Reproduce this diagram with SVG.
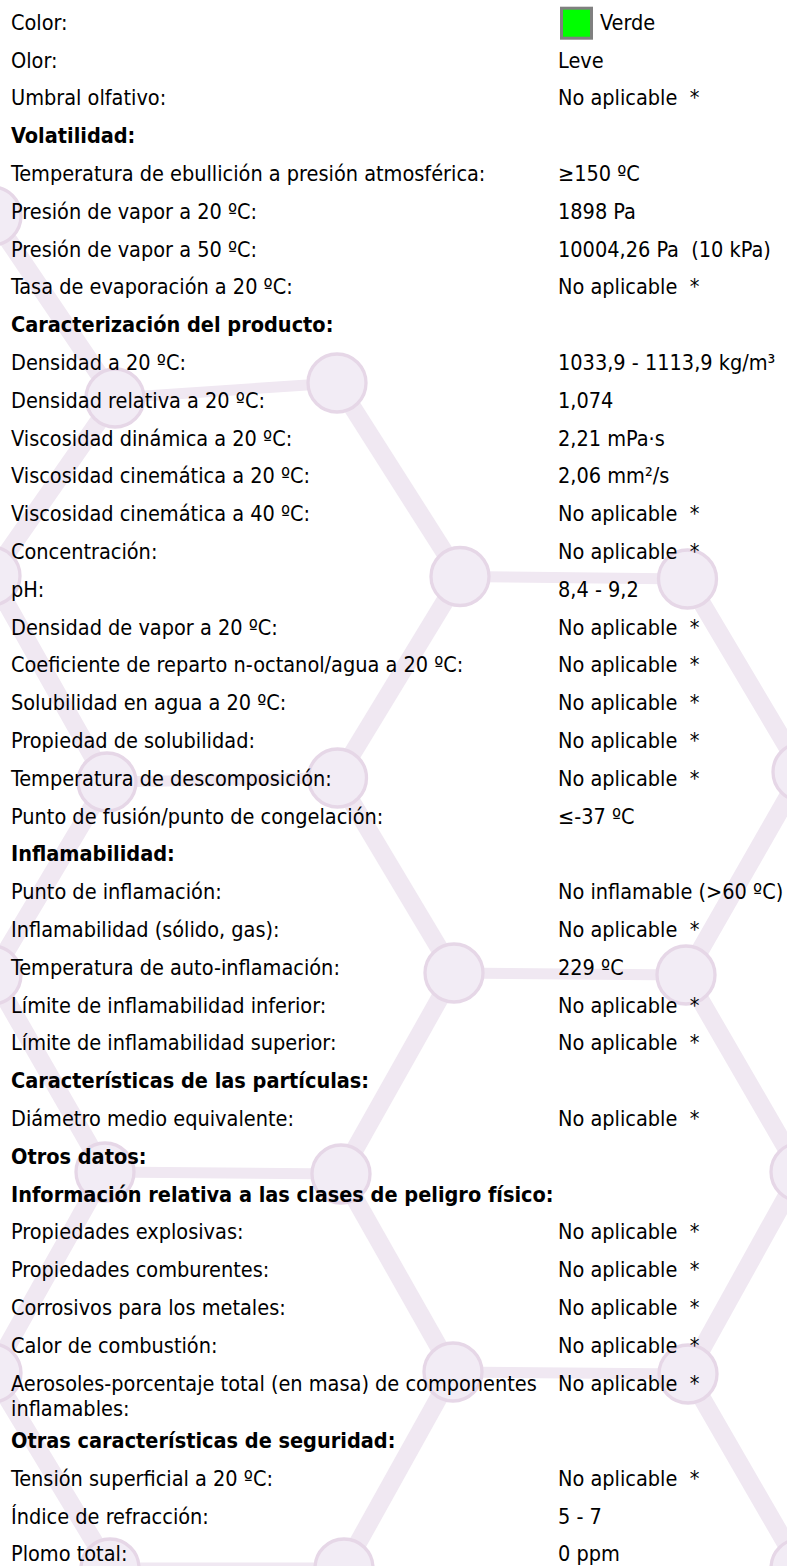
<svg xmlns="http://www.w3.org/2000/svg" width="787" height="1566" viewBox="0 0 787 1566">
<style>
text{font-family:'DejaVu Sans Condensed','DejaVu Sans',sans-serif;font-stretch:condensed;font-size:21.5px;fill:#000}
.b{font-weight:bold}
.ln{stroke:#F0E8F2;fill:none}
.dg{stroke-width:18}
.hz{stroke-width:11}
.dot{fill:#F2ECF5;stroke:#E6D7E7;stroke-width:3.3}
</style>
<rect width="787" height="1566" fill="#fff"/>
<g id="connectors">
<line class="ln dg" x1="-8" y1="216" x2="115" y2="398"/>
<line class="ln hz" x1="115" y1="398" x2="337" y2="383"/>
<line class="ln dg" x1="115" y1="398" x2="-9" y2="576"/>
<line class="ln dg" x1="337" y1="383" x2="460" y2="576.5"/>
<line class="ln hz" x1="460" y1="576.5" x2="687.5" y2="579"/>
<line class="ln dg" x1="460" y1="576.5" x2="337.5" y2="778"/>
<line class="ln dg" x1="687.5" y1="579" x2="802" y2="772"/>
<line class="ln dg" x1="-9" y1="576" x2="107" y2="782"/>
<line class="ln hz" x1="107" y1="782" x2="337.5" y2="778"/>
<line class="ln dg" x1="107" y1="782" x2="-8" y2="975"/>
<line class="ln dg" x1="337.5" y1="778" x2="454" y2="973"/>
<line class="ln dg" x1="802" y1="772" x2="686" y2="975"/>
<line class="ln hz" x1="454" y1="973" x2="686" y2="975"/>
<line class="ln dg" x1="454" y1="973" x2="341" y2="1174"/>
<line class="ln dg" x1="686" y1="975" x2="800" y2="1172"/>
<line class="ln dg" x1="-8" y1="975" x2="105" y2="1172"/>
<line class="ln hz" x1="105" y1="1172" x2="341" y2="1174"/>
<line class="ln dg" x1="341" y1="1174" x2="453" y2="1372"/>
<line class="ln dg" x1="105" y1="1172" x2="-8" y2="1373"/>
<line class="ln dg" x1="800" y1="1172" x2="688" y2="1374"/>
<line class="ln hz" x1="453" y1="1372" x2="688" y2="1374"/>
<line class="ln dg" x1="453" y1="1372" x2="344" y2="1568"/>
<line class="ln dg" x1="688" y1="1374" x2="800" y2="1568"/>
<line class="ln dg" x1="-8" y1="1373" x2="110" y2="1568"/>
<line class="ln hz" x1="110" y1="1568" x2="344" y2="1568"/>
</g>
<g id="pattern-nodes">
<circle class="dot" cx="-8" cy="216" r="29"/>
<circle class="dot" cx="115" cy="398" r="29"/>
<circle class="dot" cx="337" cy="383" r="29"/>
<circle class="dot" cx="-9" cy="576" r="29"/>
<circle class="dot" cx="460" cy="576.5" r="29"/>
<circle class="dot" cx="687.5" cy="579" r="29"/>
<circle class="dot" cx="107" cy="782" r="29"/>
<circle class="dot" cx="337.5" cy="778" r="29"/>
<circle class="dot" cx="802" cy="772" r="29"/>
<circle class="dot" cx="-8" cy="975" r="29"/>
<circle class="dot" cx="454" cy="973" r="29"/>
<circle class="dot" cx="686" cy="975" r="29"/>
<circle class="dot" cx="105" cy="1172" r="29"/>
<circle class="dot" cx="341" cy="1174" r="29"/>
<circle class="dot" cx="800" cy="1172" r="29"/>
<circle class="dot" cx="-8" cy="1373" r="29"/>
<circle class="dot" cx="453" cy="1372" r="29"/>
<circle class="dot" cx="688" cy="1374" r="29"/>
<circle class="dot" cx="110" cy="1568" r="29"/>
<circle class="dot" cx="344" cy="1568" r="29"/>
<circle class="dot" cx="800" cy="1568" r="29"/>
</g>
<g id="row-color"><text x="11" y="29.8">Color:</text><rect x="561.5" y="8.2" width="30" height="30" fill="#00FF00" stroke="#808080" stroke-width="3"/><text x="600" y="29.8">Verde</text></g>
<g id="row-olor"><text x="11" y="67.6">Olor:</text><text x="558" y="67.6">Leve</text></g>
<g id="row-umbral"><text x="11" y="105.4">Umbral olfativo:</text><text x="558" y="105.4">No aplicable&#160;&#160;*</text></g>
<g id="row-volatilidad"><text class="b" x="11" y="143.2">Volatilidad:</text></g>
<g id="row-ebullicion"><text x="11" y="181">Temperatura de ebullición a presión atmosférica:</text><text x="558" y="181">≥150 ºC</text></g>
<g id="row-pv20"><text x="11" y="218.8">Presión de vapor a 20 ºC:</text><text x="558" y="218.8">1898 Pa</text></g>
<g id="row-pv50"><text x="11" y="256.6">Presión de vapor a 50 ºC:</text><text x="558" y="256.6">10004,26 Pa&#160;&#160;(10 kPa)</text></g>
<g id="row-evap"><text x="11" y="294.4">Tasa de evaporación a 20 ºC:</text><text x="558" y="294.4">No aplicable&#160;&#160;*</text></g>
<g id="row-caract"><text class="b" x="11" y="332.2">Caracterización del producto:</text></g>
<g id="row-dens"><text x="11" y="370">Densidad a 20 ºC:</text><text x="558" y="370">1033,9 - 1113,9 kg/m³</text></g>
<g id="row-densrel"><text x="11" y="407.8">Densidad relativa a 20 ºC:</text><text x="558" y="407.8">1,074</text></g>
<g id="row-viscdin"><text x="11" y="445.6">Viscosidad dinámica a 20 ºC:</text><text x="558" y="445.6">2,21 mPa·s</text></g>
<g id="row-visc20"><text x="11" y="483.4">Viscosidad cinemática a 20 ºC:</text><text x="558" y="483.4">2,06 mm²/s</text></g>
<g id="row-visc40"><text x="11" y="521.2">Viscosidad cinemática a 40 ºC:</text><text x="558" y="521.2">No aplicable&#160;&#160;*</text></g>
<g id="row-conc"><text x="11" y="559">Concentración:</text><text x="558" y="559">No aplicable&#160;&#160;*</text></g>
<g id="row-ph"><text x="11" y="596.8">pH:</text><text x="558" y="596.8">8,4 - 9,2</text></g>
<g id="row-densvap"><text x="11" y="634.6">Densidad de vapor a 20 ºC:</text><text x="558" y="634.6">No aplicable&#160;&#160;*</text></g>
<g id="row-coef"><text x="11" y="672.4">Coeficiente de reparto n-octanol/agua a 20 ºC:</text><text x="558" y="672.4">No aplicable&#160;&#160;*</text></g>
<g id="row-solub"><text x="11" y="710.2">Solubilidad en agua a 20 ºC:</text><text x="558" y="710.2">No aplicable&#160;&#160;*</text></g>
<g id="row-propsol"><text x="11" y="748">Propiedad de solubilidad:</text><text x="558" y="748">No aplicable&#160;&#160;*</text></g>
<g id="row-descomp"><text x="11" y="785.8">Temperatura de descomposición:</text><text x="558" y="785.8">No aplicable&#160;&#160;*</text></g>
<g id="row-fusion"><text x="11" y="823.6">Punto de fusión/punto de congelación:</text><text x="558" y="823.6">≤-37 ºC</text></g>
<g id="row-inflam"><text class="b" x="11" y="861.4">Inflamabilidad:</text></g>
<g id="row-ptoinfl"><text x="11" y="899.2">Punto de inflamación:</text><text x="558" y="899.2">No inflamable (&gt;60 ºC)</text></g>
<g id="row-inflsol"><text x="11" y="937">Inflamabilidad (sólido, gas):</text><text x="558" y="937">No aplicable&#160;&#160;*</text></g>
<g id="row-autoinfl"><text x="11" y="974.8">Temperatura de auto-inflamación:</text><text x="558" y="974.8">229 ºC</text></g>
<g id="row-liminf"><text x="11" y="1012.6">Límite de inflamabilidad inferior:</text><text x="558" y="1012.6">No aplicable&#160;&#160;*</text></g>
<g id="row-limsup"><text x="11" y="1050.4">Límite de inflamabilidad superior:</text><text x="558" y="1050.4">No aplicable&#160;&#160;*</text></g>
<g id="row-particulas"><text class="b" x="11" y="1088.2">Características de las partículas:</text></g>
<g id="row-diametro"><text x="11" y="1126">Diámetro medio equivalente:</text><text x="558" y="1126">No aplicable&#160;&#160;*</text></g>
<g id="row-otros"><text class="b" x="11" y="1163.8">Otros datos:</text></g>
<g id="row-info"><text class="b" x="11" y="1201.6">Información relativa a las clases de peligro físico:</text></g>
<g id="row-explos"><text x="11" y="1239.4">Propiedades explosivas:</text><text x="558" y="1239.4">No aplicable&#160;&#160;*</text></g>
<g id="row-combur"><text x="11" y="1277.2">Propiedades comburentes:</text><text x="558" y="1277.2">No aplicable&#160;&#160;*</text></g>
<g id="row-corros"><text x="11" y="1315">Corrosivos para los metales:</text><text x="558" y="1315">No aplicable&#160;&#160;*</text></g>
<g id="row-calor"><text x="11" y="1352.8">Calor de combustión:</text><text x="558" y="1352.8">No aplicable&#160;&#160;*</text></g>
<g id="row-aerosol"><text x="11" y="1390.6">Aerosoles-porcentaje total (en masa) de componentes</text><text x="11" y="1416.2">inflamables:</text><text x="558" y="1390.6">No aplicable&#160;&#160;*</text></g>
<g id="row-otras"><text class="b" x="11" y="1448">Otras características de seguridad:</text></g>
<g id="row-tension"><text x="11" y="1485.8">Tensión superficial a 20 ºC:</text><text x="558" y="1485.8">No aplicable&#160;&#160;*</text></g>
<g id="row-refrac"><text x="11" y="1523.6">Índice de refracción:</text><text x="558" y="1523.6">5 - 7</text></g>
<g id="row-plomo"><text x="11" y="1561.4">Plomo total:</text><text x="558" y="1561.4">0 ppm</text></g>
</svg>
